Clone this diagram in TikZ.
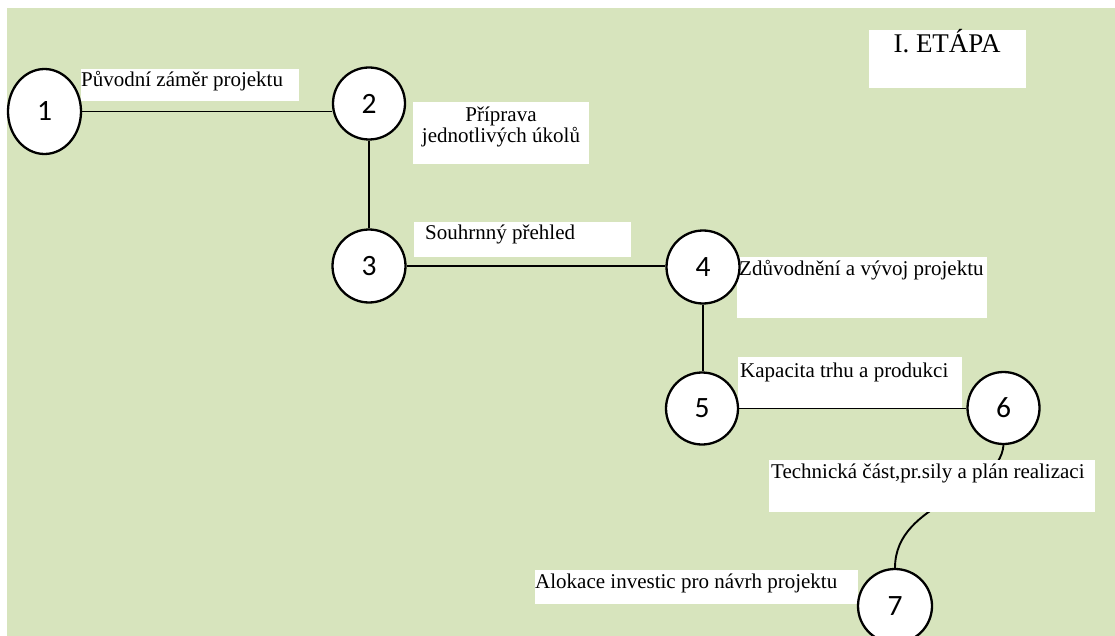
\documentclass[tikz,border=0pt]{standalone}
\usepackage{fontspec}
\setmainfont{Liberation Serif}
\newfontfamily\numfont{Carlito}
\usetikzlibrary{shapes.geometric}
\definecolor{bggreen}{HTML}{D7E4BD}
\begin{document}
\begin{tikzpicture}[x=1pt,y=-1pt,
  stage/.style={circle,draw=black,line width=2.3pt,fill=white,minimum size=72pt,
    inner sep=0pt,font=\numfont\fontsize{29.5}{29.5}\selectfont},
  link/.style={draw=black,line width=1.9pt},
  labelbox/.style={fill=white},
  lbl/.style={inner sep=0pt,anchor=base west,font=\fontsize{21}{21}\selectfont},
]
\useasboundingbox (0,0) rectangle (1115,636);
\clip (0,0) rectangle (1115,636);

% background panel
\fill[bggreen] (7,8) rectangle (1115,636);

% stage coordinates (used by connectors before the circles are drawn)
\coordinate (c1) at (44.5,111.5);
\coordinate (c2) at (369,103.5);
\coordinate (c3) at (369,266);
\coordinate (c4) at (703,267);
\coordinate (c5) at (702,408.5);
\coordinate (c6) at (1003.5,408);
\coordinate (c7) at (895,606);

% invisible placeholders so connectors end on the borders
\path (c1) node[stage,ellipse,minimum width=73pt,minimum height=85pt,draw=none,fill=none] (p1) {};
\path (c2) node[stage,draw=none,fill=none] (p2) {};
\path (c3) node[stage,minimum size=73pt,draw=none,fill=none] (p3) {};
\path (c4) node[stage,minimum size=73pt,draw=none,fill=none] (p4) {};
\path (c5) node[stage,draw=none,fill=none] (p5) {};
\path (c6) node[stage,draw=none,fill=none] (p6) {};
\path (c7) node[stage,minimum size=74pt,draw=none,fill=none] (p7) {};

% connectors
\draw[link] (p1.east) -- (p1.east -| p2.west);
\draw[link] (p2.south) -- (p3.north);
\draw[link] (p3.east) -- (p3.east -| p4.west);
\draw[link] (p4.south) -- (p4.south |- p5.north);
\draw[link] (p5.east) -- (p5.east -| p6.west);
\draw[link] (p6.south) .. controls (999,495) and (895,500) .. (p7.north);

% label boxes
\fill[labelbox] (81,69) rectangle (299,101);
\fill[labelbox] (413,102) rectangle (589,164);
\fill[labelbox] (414,222) rectangle (631,257);
\fill[labelbox] (737,257) rectangle (987,318);
\fill[labelbox] (738,357) rectangle (962,407.5);
\fill[labelbox] (769,460) rectangle (1095,512);
\fill[labelbox] (535,570) rectangle (858,604);
\fill[labelbox] (869,30) rectangle (1026,88);

% labels
\node[lbl] (l1) at (81,87) {Původní záměr projektu};
\node[lbl,anchor=base] (l2a) at (501,122) {Příprava};
\node[lbl,anchor=base] (l2b) at (501,143) {jednotlivých úkolů};
\node[lbl] (l3) at (425,240) {Souhrnný přehled};
\node[lbl] (l4) at (739,275) {Zdůvodnění a vývoj projektu};
\node[lbl] (l5) at (740,377) {Kapacita trhu a produkci};
\node[lbl] (l6) at (771,478) {Technická část,pr.sily a plán realizaci};
\node[lbl] (l7) at (535,588) {Alokace investic pro návrh projektu};
\node[lbl,anchor=base,font=\fontsize{27}{27}\selectfont] (etapa) at (947,53) {I. ETÁPA};

% stages
\node[stage,ellipse,minimum width=73pt,minimum height=85pt] (n1) at (c1) {1};
\node[stage] (n2) at (c2) {2};
\node[stage,minimum size=73pt] (n3) at (c3) {3};
\node[stage,minimum size=73pt] (n4) at (c4) {4};
\node[stage] (n5) at (c5) {5};
\node[stage] (n6) at (c6) {6};
\node[stage,minimum size=74pt] (n7) at (c7) {7};
\end{tikzpicture}
\end{document}
